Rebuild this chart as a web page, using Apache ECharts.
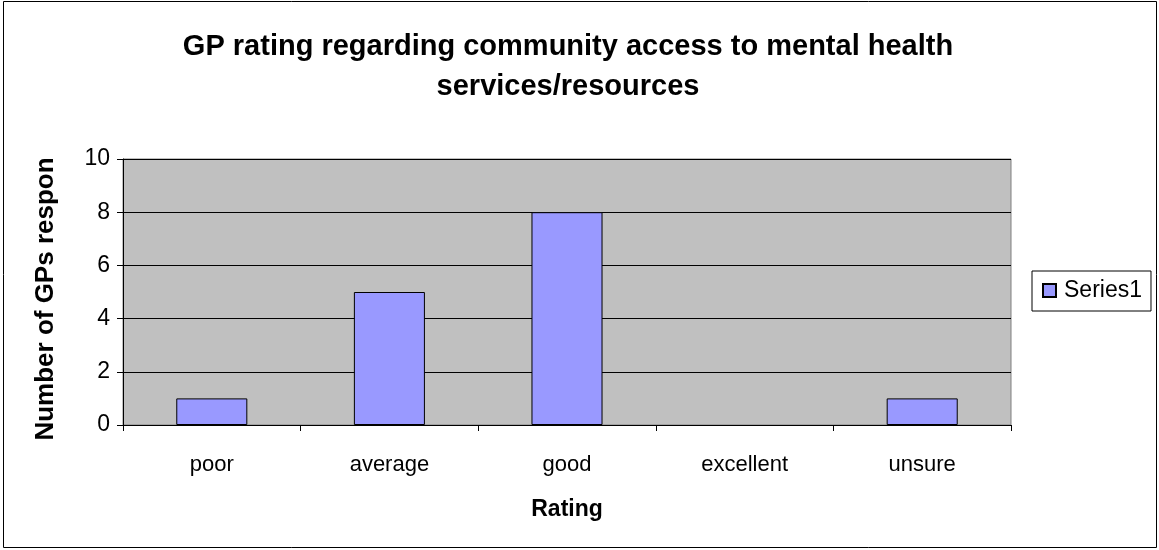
<!DOCTYPE html>
<html><head><meta charset="utf-8">
<script src="https://cdn.jsdelivr.net/npm/echarts@6/dist/echarts.min.js"></script>
<style>html,body{margin:0;padding:0;background:#fff}#c{width:1159px;height:550px}</style>
</head><body><div id="c"></div>
<script>
var categories = ['poor', 'average', 'good', 'excellent', 'unsure'];
var values = [1, 5, 8, 0, 1];
var seriesName = 'Series1';
var titleText = 'GP rating regarding community access to mental health\nservices/resources';
var xName = 'Rating';
var yName = 'Number of GPs responding';

var chart = echarts.init(document.getElementById('c'), null, {renderer: 'canvas'});
var font = 'Liberation Sans, Arial, sans-serif';
chart.setOption({
  animation: false,
  backgroundColor: '#fff',
  graphic: [{type: 'rect', shape: {x: 3.5, y: 1.5, width: 1153, height: 546}, style: {fill: 'none', stroke: '#000', lineWidth: 1}, z: -1}],
  title: {text: titleText, left: 563, textAlign: 'center', top: 22,
    textStyle: {fontFamily: font, fontSize: 29, fontWeight: 'bold', color: '#000', lineHeight: 40}},
  legend: {left: 1032, top: 271, orient: 'vertical', itemWidth: 13, itemHeight: 13, itemGap: 0,
    padding: [8, 9, 9, 10], borderColor: '#000', borderWidth: 1, icon: 'rect',
    textStyle: {fontFamily: font, fontSize: 23, color: '#000', padding: [0,0,0,3]}},
  grid: {left: 123, right: 148, top: 159, bottom: 125, show: true, backgroundColor: '#c0c0c0', borderColor: '#808080', borderWidth: 1},
  xAxis: {type: 'category', data: categories, name: xName, nameLocation: 'middle', nameGap: 73,
    nameTextStyle: {fontFamily: font, fontSize: 23, fontWeight: 'bold', color: '#000'},
    axisLine: {lineStyle: {color: '#000'}}, axisTick: {show: true, length: 6, lineStyle: {color: '#000'}},
    axisLabel: {fontFamily: font, fontSize: 22, color: '#000', margin: 29}},
  yAxis: {type: 'value', min: 0, max: 10, interval: 2, name: yName, nameLocation: 'middle', nameGap: 64, nameRotate: 90,
    nameTruncate: {maxWidth: 290, ellipsis: ''},
    nameTextStyle: {fontFamily: font, fontSize: 26, fontWeight: 'bold', color: '#000', padding: [0, 14, 0, 0]},
    axisLine: {show: true, lineStyle: {color: '#000'}}, axisTick: {show: true, length: 6, lineStyle: {color: '#000'}},
    axisLabel: {fontFamily: font, fontSize: 23, color: '#000', margin: 13},
    splitLine: {lineStyle: {color: '#000', width: 1}}},
  series: [{name: seriesName, type: 'bar', data: values.map(function (v) { return v === 0 ? '-' : v; }), barCategoryGap: '60%',
    itemStyle: {color: '#9999ff', borderColor: '#000', borderWidth: 1}}]
});
</script></body></html>
